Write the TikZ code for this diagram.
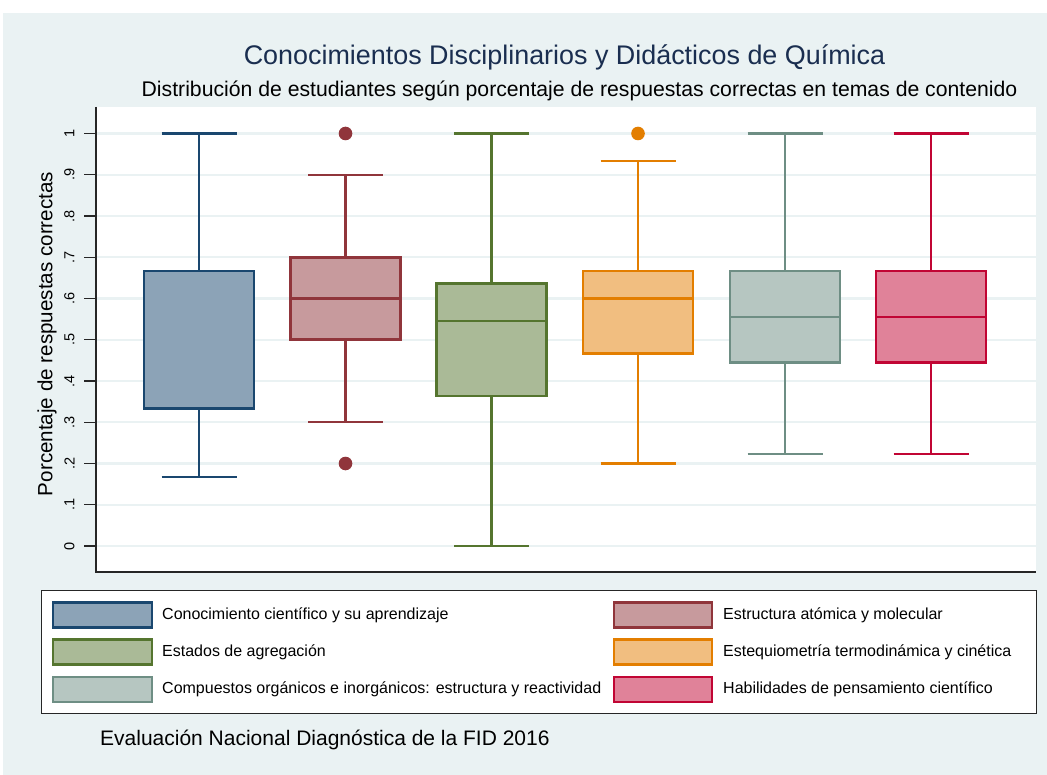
\documentclass[tikz,border=0pt]{standalone}
\usepackage{fontspec}
\setmainfont{Liberation Sans}
\definecolor{bgpanel}{RGB}{234,242,243}
\definecolor{gridc}{RGB}{234,242,243}
\definecolor{titlec}{RGB}{26,46,80}
\definecolor{cA}{RGB}{26,71,111}
\definecolor{cB}{RGB}{144,53,59}
\definecolor{cC}{RGB}{85,117,47}
\definecolor{cD}{RGB}{227,126,0}
\definecolor{cE}{RGB}{110,142,132}
\definecolor{cF}{RGB}{193,5,52}
\colorlet{fA}{cA!50!white}
\colorlet{fB}{cB!50!white}
\colorlet{fC}{cC!50!white}
\colorlet{fD}{cD!50!white}
\colorlet{fE}{cE!50!white}
\colorlet{fF}{cF!50!white}
\tikzset{
  gridline/.style={draw=gridc,line width=2.2pt},
  axisline/.style={draw=black!85,line width=1.4pt},
  tickline/.style={draw=black!85,line width=1.2pt},
  ticklab/.style={rotate=90,font=\fontsize{14.5}{16}\selectfont,inner sep=0pt},
  legkey/.style={line width=2.4pt},
  legtext/.style={anchor=west,font=\fontsize{16}{19}\selectfont,inner sep=0pt},
}
% boxplot: #1 center x, #2 lower whisker, #3 q1, #4 median, #5 q3, #6 upper whisker, #7 line colour, #8 fill colour
\newcommand\bxplt[8]{%
  \draw[#7,line width=2.2pt] (#1,{546-412.5*#3}) -- (#1,{546-412.5*#2});
  \draw[#7,line width=2.2pt] (#1,{546-412.5*#5}) -- (#1,{546-412.5*#6});
  \draw[#7,line width=2.2pt] ({#1-37.5},{546-412.5*#2}) -- ({#1+37.5},{546-412.5*#2});
  \draw[#7,line width=2.2pt] ({#1-37.5},{546-412.5*#6}) -- ({#1+37.5},{546-412.5*#6});
  \draw[#7,fill=#8,line width=2.6pt] ({#1-55},{546-412.5*#3}) rectangle ({#1+55},{546-412.5*#5});
  \draw[#7,line width=2.6pt] ({#1-55},{546-412.5*#4}) -- ({#1+55},{546-412.5*#4});
}
\begin{document}
\begin{tikzpicture}[x=1pt,y=-1pt]
\useasboundingbox (0,0) rectangle (1047,775);
\fill[white] (0,0) rectangle (1047,775);
\fill[bgpanel] (3,13) rectangle (1047,775);
% plot region
\fill[white] (96,107) rectangle (1036,572);
\foreach \v in {0,0.1,...,1.01} {
  \draw[gridline] (96,{546-412.5*\v}) -- (1036,{546-412.5*\v});
  \draw[tickline] (84,{546-412.5*\v}) -- (96,{546-412.5*\v});
}
\foreach \v/\l in {0/0,0.1/.1,0.2/.2,0.3/.3,0.4/.4,0.5/.5,0.6/.6,0.7/.7,0.8/.8,0.9/.9,1/1} {
  \node[ticklab] at (69.5,{546-412.5*\v}) {\l};
}
\draw[axisline] (96,107) -- (96,572) -- (1036,572);
% titles
\node[font=\fontsize{26.9}{30}\selectfont,text=titlec,inner sep=0pt] (title) at (564.5,57) {Conocimientos Disciplinarios y Didácticos de Química};
\node[font=\fontsize{21.2}{24}\selectfont,inner sep=0pt] (subtitle) at (579.5,91) {Distribución de estudiantes según porcentaje de respuestas correctas en temas de contenido};
\node[rotate=90,font=\fontsize{20.6}{23}\selectfont,inner sep=0pt] (ytitle) at (47,334) {Porcentaje de respuestas correctas};
% boxes
\bxplt{199}{0.1667}{0.3333}{0.6667}{0.6667}{1}{cA}{fA}
\bxplt{345.5}{0.3}{0.5}{0.6}{0.7}{0.9}{cB}{fB}
\bxplt{491.5}{0}{0.3636}{0.5455}{0.6364}{1}{cC}{fC}
\bxplt{638}{0.2}{0.4667}{0.6}{0.6667}{0.9333}{cD}{fD}
\bxplt{785}{0.2222}{0.4444}{0.5556}{0.6667}{1}{cE}{fE}
\bxplt{931}{0.2222}{0.4444}{0.5556}{0.6667}{1}{cF}{fF}
\fill[cB] (345.5,{546-412.5*1}) circle (6.8);
\fill[cB] (345.5,{546-412.5*0.2}) circle (6.8);
\fill[cD] (638,{546-412.5*1}) circle (6.8);
% legend
\draw[fill=white,draw=black!85,line width=1pt] (41,590) rectangle (1036,713);
\draw[legkey,cA,fill=fA] (53,602.5) rectangle (152,627.5);
\draw[legkey,cC,fill=fC] (53,639.5) rectangle (152,664.5);
\draw[legkey,cE,fill=fE] (53,677) rectangle (152,702);
\draw[legkey,cB,fill=fB] (614,602.5) rectangle (712,627.5);
\draw[legkey,cD,fill=fD] (614,639.5) rectangle (712,664.5);
\draw[legkey,cF,fill=fF] (614,677) rectangle (712,702);
\node[legtext] (l1) at (162,615) {Conocimiento científico y su aprendizaje};
\node[legtext] (l2) at (162,652) {Estados de agregación};
\node[legtext] (l3) at (162,689.5) {Compuestos orgánicos e inorgánicos: estructura y reactividad};
\node[legtext] (l4) at (723,615) {Estructura atómica y molecular};
\node[legtext] (l5) at (723,652) {Estequiometría termodinámica y cinética};
\node[legtext] (l6) at (723,689.5) {Habilidades de pensamiento científico};
% note
\node[anchor=west,font=\fontsize{21}{24}\selectfont,inner sep=0pt] (note) at (100,740) {Evaluación Nacional Diagnóstica de la FID 2016};
\end{tikzpicture}
\end{document}
